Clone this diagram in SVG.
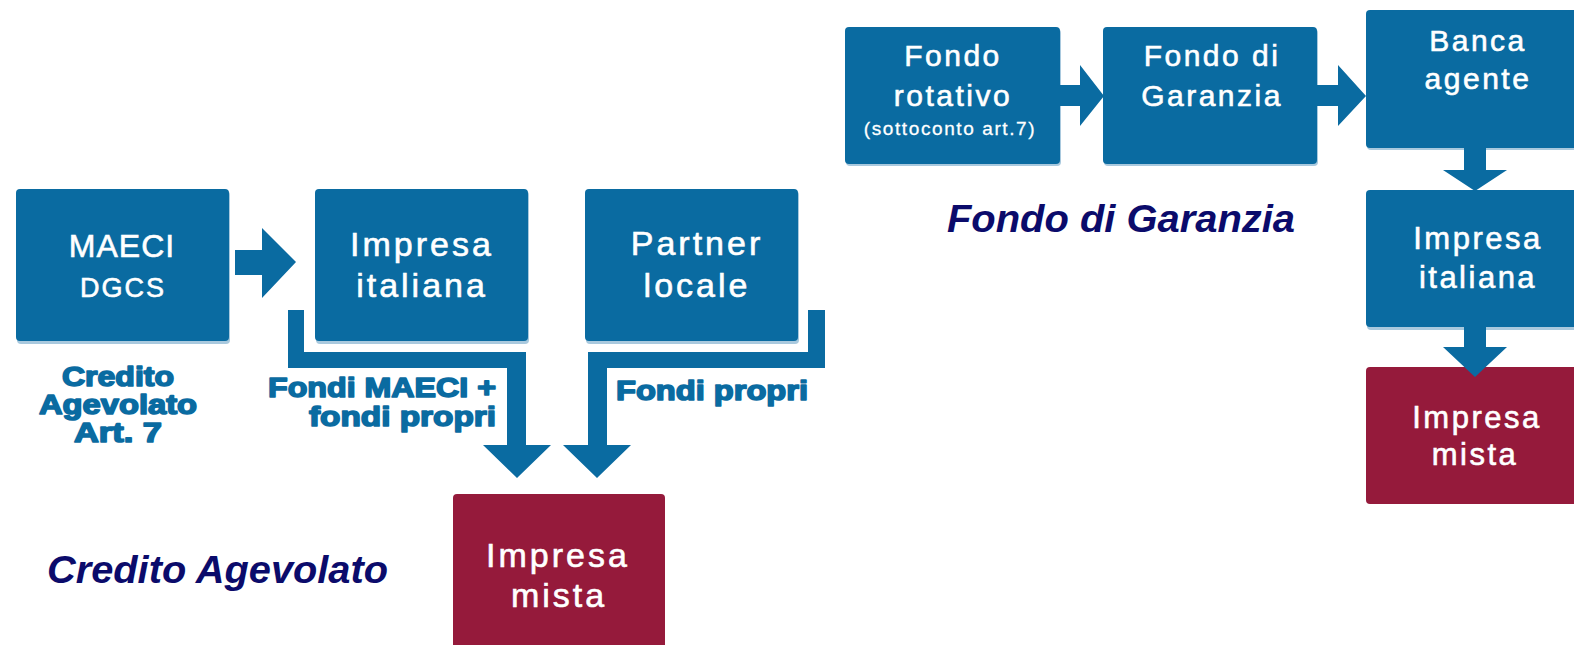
<svg xmlns="http://www.w3.org/2000/svg" width="1574" height="645" viewBox="0 0 1574 645">
<style>
.b{fill:#0a6ba1}
.m{fill:#951a3b}
.sb{fill:#a9c9de}
.t{font-family:"Liberation Sans",Arial,sans-serif;fill:#ffffff;stroke:#ffffff;stroke-width:0.6;text-anchor:middle}
.tl{font-size:34px;letter-spacing:3px}
.ts{font-size:30px;letter-spacing:2.5px}
.lab{font-family:"Liberation Sans",Arial,sans-serif;font-weight:bold;fill:#0a6ba1;stroke:#0a6ba1;stroke-width:1.6;stroke-linejoin:round}
.title{font-family:"Liberation Sans",Arial,sans-serif;font-weight:bold;font-style:italic;font-size:39px;fill:#0b0b6b}
.c{fill:#0a6ba1}
</style>
<rect width="1574" height="645" fill="#ffffff"/>
<g id="maeci">
<rect class="sb" x="17" y="191" width="213" height="153" rx="4"/>
<rect class="b" x="16" y="189" width="213" height="152" rx="4"/>
<text class="t" x="122" y="257" style="font-size:32px;letter-spacing:1px">MAECI</text>
<text class="t" x="123" y="297" style="font-size:27px;letter-spacing:2px">DGCS</text>
</g>
<g id="impresa-italiana-1">
<rect class="sb" x="316" y="191" width="213" height="153" rx="4"/>
<rect class="b" x="315" y="189" width="213" height="152" rx="4"/>
<text class="t tl" x="422" y="256">Impresa</text>
<text class="t tl" x="422" y="297">italiana</text>
</g>
<g id="partner-locale">
<rect class="sb" x="586" y="191" width="213" height="153" rx="4"/>
<rect class="b" x="585" y="189" width="213" height="152" rx="4"/>
<text class="t tl" x="697" y="255">Partner</text>
<text class="t tl" x="697" y="297">locale</text>
</g>
<g id="impresa-mista-1">
<rect class="m" x="453" y="494" width="212" height="160" rx="4"/>
<text class="t tl" x="558" y="567">Impresa</text>
<text class="t tl" x="559" y="607">mista</text>
</g>
<g id="fondo-rotativo">
<rect class="sb" x="846" y="29" width="215" height="137" rx="4"/>
<rect class="b" x="845" y="27" width="215" height="137" rx="4"/>
<text class="t ts" x="953" y="66">Fondo</text>
<text class="t ts" x="953" y="106">rotativo</text>
<text class="t" x="950" y="135" style="font-size:19px;letter-spacing:1.6px;stroke-width:0.3">(sottoconto art.7)</text>
</g>
<g id="fondo-garanzia">
<rect class="sb" x="1104" y="29" width="214" height="137" rx="4"/>
<rect class="b" x="1103" y="27" width="214" height="137" rx="4"/>
<text class="t ts" x="1212" y="66">Fondo di</text>
<text class="t ts" x="1212" y="106">Garanzia</text>
</g>
<g id="banca-agente">
<rect class="sb" x="1367" y="12" width="220" height="138" rx="4"/>
<rect class="b" x="1366" y="10" width="220" height="138" rx="4"/>
<text class="t ts" x="1478" y="51">Banca</text>
<text class="t ts" x="1478" y="89">agente</text>
</g>
<g id="impresa-italiana-2">
<rect class="sb" x="1367" y="192" width="220" height="138" rx="4"/>
<rect class="b" x="1366" y="190" width="220" height="137" rx="4"/>
<text class="t" x="1478" y="249" style="font-size:31px;letter-spacing:2.5px">Impresa</text>
<text class="t" x="1478" y="288" style="font-size:31px;letter-spacing:2.5px">italiana</text>
</g>
<g id="impresa-mista-2">
<rect class="m" x="1366" y="367" width="220" height="137" rx="4"/>
<text class="t" x="1477" y="428" style="font-size:31px;letter-spacing:2.5px">Impresa</text>
<text class="t" x="1475" y="465" style="font-size:31px;letter-spacing:2.5px">mista</text>
</g>
<g id="labels">
<text class="lab" x="118" y="386" font-size="27" text-anchor="middle" textLength="112" lengthAdjust="spacingAndGlyphs">Credito</text>
<text class="lab" x="118" y="414" font-size="27" text-anchor="middle" textLength="158" lengthAdjust="spacingAndGlyphs">Agevolato</text>
<text class="lab" x="118" y="442" font-size="27" text-anchor="middle" textLength="88" lengthAdjust="spacingAndGlyphs">Art. 7</text>
<text class="lab" x="268" y="397" font-size="28" textLength="228" lengthAdjust="spacingAndGlyphs">Fondi MAECI +</text>
<text class="lab" x="309" y="426" font-size="28" textLength="187" lengthAdjust="spacingAndGlyphs">fondi propri</text>
<text class="lab" x="616" y="400" font-size="28" textLength="192" lengthAdjust="spacingAndGlyphs">Fondi propri</text>
<text class="title" x="47" y="583" textLength="341" lengthAdjust="spacingAndGlyphs">Credito Agevolato</text>
<text class="title" x="947" y="232" textLength="348" lengthAdjust="spacingAndGlyphs">Fondo di Garanzia</text>
</g>
<g id="connectors">
<polygon class="c" points="235,250 262,250 262,228 296,262 262,298 262,275 235,275"/>
<polygon class="c" points="288,310 304,310 304,352 526,352 526,445 551,445 517,478 483,445 507,445 507,368 288,368"/>
<polygon class="c" points="825,310 808,310 808,352 588,352 588,445 563,445 597,478 631,445 607,445 607,368 825,368"/>
<polygon class="c" points="1060,85 1080,85 1080,65 1104,96 1080,126 1080,106 1060,106"/>
<polygon class="c" points="1317,85 1338,85 1338,65 1366,96 1338,126 1338,106 1317,106"/>
<polygon class="c" points="1464,148 1486,148 1486,170 1507,170 1475,191 1443,170 1464,170"/>
<polygon class="c" points="1464,327 1486,327 1486,347 1507,347 1475,377 1443,347 1464,347"/>
</g>
</svg>
